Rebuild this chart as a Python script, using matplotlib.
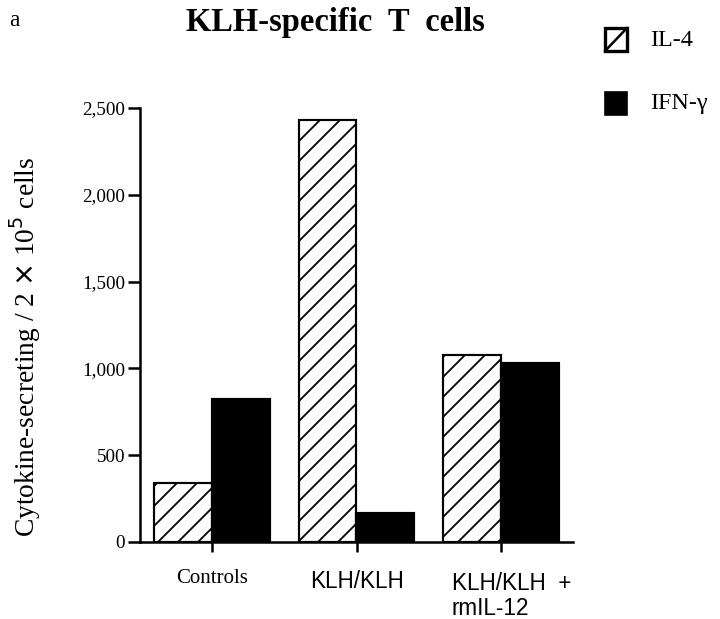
import numpy as np
import matplotlib
matplotlib.use("Agg")
import matplotlib.pyplot as plt
from matplotlib.patches import Rectangle
from matplotlib.lines import Line2D

# data
groups = ["Controls", "KLH/KLH", "KLH/KLH  +\nrmIL-12"]
il4 = [340, 2430, 1075]
ifng = [825, 165, 1030]
yticks = [0, 500, 1000, 1500, 2000, 2500]

plt.rcParams['hatch.linewidth'] = 1.1
serif = "Liberation Serif"
sans = "Liberation Sans"

fig = plt.figure(figsize=(6.0, 619 / 120), dpi=120)
ax = fig.add_axes([140 / 720, 1 - 542 / 619, 433 / 720, 434 / 619])

x = np.arange(len(groups))
w = 0.40
ax.bar(x - w / 2, il4, w, color="white", edgecolor="black", hatch="//", linewidth=1.3)
ax.bar(x + w / 2, ifng, w, color="black", edgecolor="black", linewidth=1.3)

ax.set_xlim(-0.5, 2.5)
ax.set_ylim(0, 2500)
for s in ["top", "right"]:
    ax.spines[s].set_visible(False)
for s in ["left", "bottom"]:
    ax.spines[s].set_linewidth(1.5)

ax.set_yticks(yticks)
ax.set_yticklabels([f"{v:,}" for v in yticks], fontfamily=serif, fontsize=11.5)
ax.tick_params(axis="y", length=7, width=1.5, pad=2)
ax.set_xticks(x)
ax.set_xticklabels([])
ax.tick_params(axis="x", length=6, width=1.5)

# category labels
tr = ax.get_xaxis_transform()
ax.text(x[0], -0.085, groups[0], transform=tr, ha="center", va="center",
        fontfamily=serif, fontsize=12.5)
ax.text(x[1], -0.09, groups[1], transform=tr, ha="center", va="center",
        fontfamily=sans, fontsize=13.5)
ax.text(x[2] - 0.34, -0.125, groups[2], transform=tr, ha="left", va="center",
        fontfamily=sans, fontsize=13.5, linespacing=1.1)

ax.set_ylabel(r"Cytokine-secreting / 2 $\times$ 10$^5$ cells", fontfamily=serif,
              fontsize=16.5)
ax.yaxis.set_label_coords(-0.225, 0.45)

fig.text(335 / 720, 1 - 22 / 619, "KLH-specific  T  cells", ha="center", va="center",
         fontfamily=serif, fontweight="bold", fontsize=19.5)
fig.text(14 / 720, 1 - 20 / 619, "a", ha="center", va="center",
         fontfamily=serif, fontsize=14)

# legend
sq_w, sq_h = 22 / 720, 23 / 619
fig.add_artist(Rectangle((605 / 720, 1 - 51 / 619), sq_w, sq_h, transform=fig.transFigure,
                         facecolor="white", edgecolor="black", linewidth=2))
fig.add_artist(Line2D([605 / 720, 627 / 720], [1 - 51 / 619, 1 - 28 / 619],
                      transform=fig.transFigure, color="black", linewidth=1.5))
fig.add_artist(Rectangle((605 / 720, 1 - 115 / 619), sq_w, sq_h, transform=fig.transFigure,
                         facecolor="black", edgecolor="black", linewidth=1))
fig.text(650 / 720, 1 - 40 / 619, "IL-4", va="center", fontfamily=serif, fontsize=14.5)
fig.text(650 / 720, 1 - 104 / 619, "IFN-γ", va="center", fontfamily=serif, fontsize=14.5)

fig.savefig("out.png", dpi=120)
